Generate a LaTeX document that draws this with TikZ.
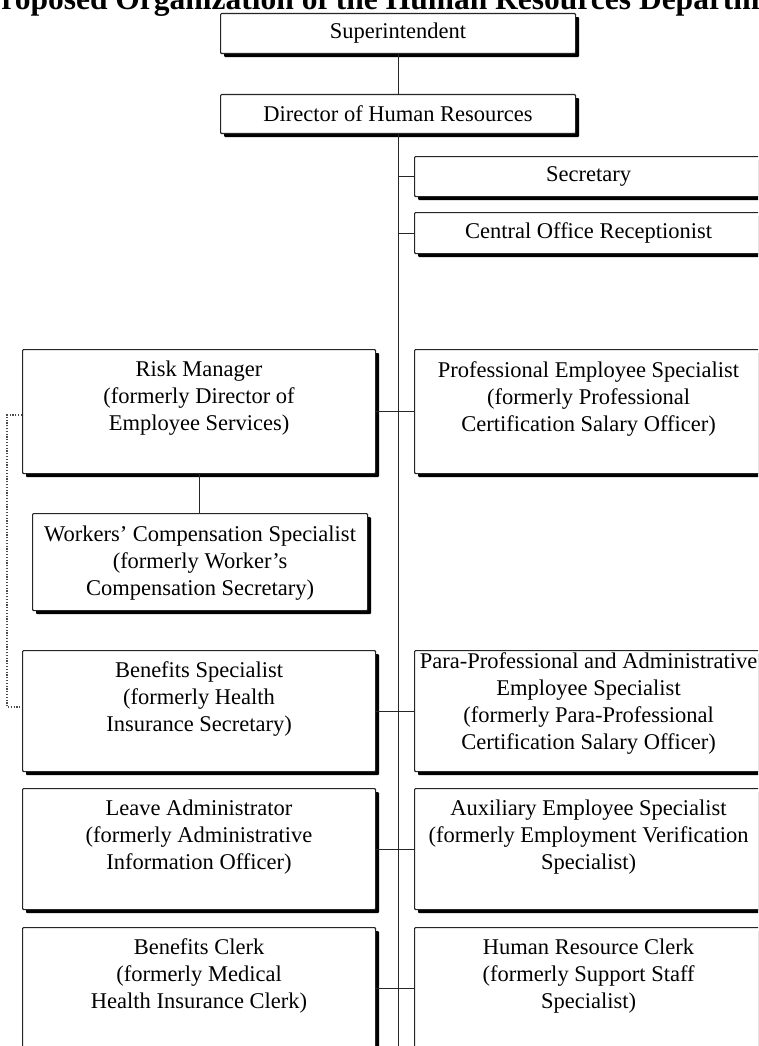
\documentclass[tikz,border=0pt]{standalone}
\usepackage{fontspec}
\setmainfont{Liberation Serif}
\usetikzlibrary{shadows}

\begin{document}
\begin{tikzpicture}[x=1pt,y=-1pt,
  box/.style={draw=black!85, line width=1.1pt, fill=white, rounded corners=1pt,
    inner sep=0pt, anchor=north west,
    drop shadow={shadow xshift=3.5pt, shadow yshift=-3.5pt, fill=black, opacity=1}},
  boxtext/.style={align=center, inner sep=0pt, font=\fontsize{22.5}{27}\selectfont},
  link/.style={draw=black!85, line width=1.1pt},
  dotlink/.style={draw=black!70, line width=1.2pt, dash pattern=on 1.2pt off 1.6pt}]

\useasboundingbox (0,0) rectangle (758,1046);
\clip (0,0) rectangle (758,1046);
\fill[white] (0,0) rectangle (758,1046);

% heading
\node[font=\bfseries\fontsize{31.5}{31.5}\selectfont, anchor=base west, inner sep=0pt]
  (title) at (-18,10) {Proposed Organization of the Human Resources Department};

% top of the chart
\node[box, boxtext, minimum width=355, minimum height=40] (sup) at (220,13) {Superintendent};
\node[box, boxtext, minimum width=355, minimum height=39] (dir) at (220,94) {Director of Human Resources};

% staff directly under the director
\node[box, boxtext, minimum width=348, minimum height=40] (sec) at (414,156) {Secretary};
\node[box, boxtext, minimum width=348, minimum height=41] (rec) at (414,212) {Central Office Receptionist};

% left column
\node[box, minimum width=353, minimum height=124] (risk) at (22,349) {};
\node[box, minimum width=335, minimum height=97] (wc) at (32,513) {};
\node[box, minimum width=353, minimum height=121] (bs) at (22,650) {};
\node[box, minimum width=353, minimum height=121] (leave) at (22,788) {};
\node[box, minimum width=353, minimum height=122] (bc) at (22,927) {};

% right column
\node[box, minimum width=348, minimum height=124] (pro) at (414,349) {};
\node[box, minimum width=348, minimum height=121] (para) at (414,650) {};
\node[box, minimum width=348, minimum height=121] (aux) at (414,788) {};
\node[box, minimum width=348, minimum height=122] (hrc) at (414,927) {};

% box texts
\node[boxtext, anchor=north] (risk-t) at ([yshift=-12pt]risk.north)
  {Risk Manager\\(formerly Director of\\Employee Services)};
\node[boxtext, anchor=north] (wc-t) at ([yshift=-13pt]wc.north)
  {Workers' Compensation Specialist\\(formerly Worker's\\Compensation Secretary)};
\node[boxtext, anchor=north] (bs-t) at ([yshift=-11pt]bs.north)
  {Benefits Specialist\\(formerly Health\\Insurance Secretary)};
\node[boxtext, anchor=north] (leave-t) at ([yshift=-12pt]leave.north)
  {Leave Administrator\\(formerly Administrative\\Information Officer)};
\node[boxtext, anchor=north] (bc-t) at ([yshift=-11pt]bc.north)
  {Benefits Clerk\\(formerly Medical\\Health Insurance Clerk)};
\node[boxtext, anchor=north] (pro-t) at ([yshift=-12pt]pro.north)
  {Professional Employee Specialist\\(formerly Professional\\Certification Salary Officer)};
\node[boxtext, anchor=north] (para-t) at ([yshift=-2pt]para.north)
  {Para-Professional and Administrative\\Employee Specialist\\(formerly Para-Professional\\Certification Salary Officer)};
\node[boxtext, anchor=north] (aux-t) at ([yshift=-12pt]aux.north)
  {Auxiliary Employee Specialist\\(formerly Employment Verification\\Specialist)};
\node[boxtext, anchor=north] (hrc-t) at ([yshift=-12pt]hrc.north)
  {Human Resource Clerk\\(formerly Support Staff\\Specialist)};

% connectors
\coordinate (trunkend) at (396,1060);
\draw[link] (sup.south) -- (dir.north);
\draw[link] (dir.south) -- (dir.south |- trunkend);
\draw[link] (sec.west) -- (sec.west -| dir.south);
\draw[link] (rec.west) -- (rec.west -| dir.south);
\draw[link] (risk.east) -- (pro.west);
\draw[link] (bs.east) -- (para.west);
\draw[link] (leave.east) -- (aux.west);
\draw[link] (bc.east) -- (hrc.west);
\draw[link] (risk.south) -- (risk.south |- wc.north);

% dotted link between Risk Manager and Benefits Specialist
\coordinate (dtop) at (7,415);
\coordinate (dbot) at (7,707);
\draw[dotlink] (dtop -| risk.west) -- (dtop) -- (dbot) -- (dbot -| bs.west);
\end{tikzpicture}
\end{document}
